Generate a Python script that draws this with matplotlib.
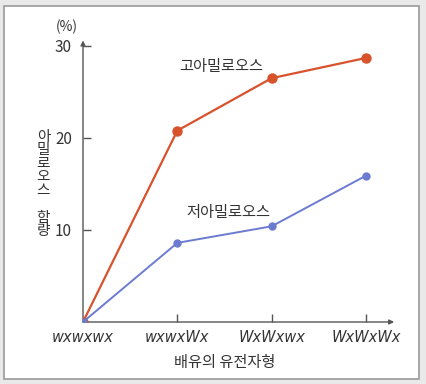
import matplotlib.pyplot as plt
from matplotlib.patches import Rectangle

plt.rcParams['font.family'] = ['Noto Sans CJK KR', 'DejaVu Sans']

genotypes = ['wxwxwx', 'wxwxWx', 'WxWxwx', 'WxWxWx']
high_amylose = [0, 20.8, 26.5, 28.7]   # 고아밀로오스
low_amylose = [0, 8.6, 10.4, 15.9]     # 저아밀로오스
yticks = [10, 20, 30]

red = '#d8522c'
blue = '#6b7bd0'
txt = '#333333'

fig = plt.figure(figsize=(4.26, 3.84), dpi=100)
fig.patch.set_facecolor('#e9e9e9')
# white panel with grey frame, kept behind the axes
fig.add_artist(Rectangle((4 / 426, 5 / 384), 415 / 426, 373 / 384,
                         transform=fig.transFigure, facecolor='white',
                         edgecolor='#9a9a9a', linewidth=1.2, zorder=-10))

ax = fig.add_axes([83 / 426, 62 / 384, 3.3 * 94.3 / 426, 30.6 * 9.2 / 384])
ax.set_xlim(0, 3.3)
ax.set_ylim(0, 30.6)
ax.patch.set_alpha(0)
for s in ax.spines.values():
    s.set_visible(False)

# axes with arrow heads
ax.annotate('', xy=(3.3, 0), xytext=(0, 0),
            arrowprops=dict(arrowstyle='-|>', color='#555555', lw=1.0,
                            mutation_scale=7, shrinkA=0, shrinkB=0))
ax.annotate('', xy=(0, 30.6), xytext=(0, 0),
            arrowprops=dict(arrowstyle='-|>', color='#555555', lw=1.0,
                            mutation_scale=7, shrinkA=0, shrinkB=0))

x = range(len(genotypes))
ax.plot(x, high_amylose, color=red, lw=1.6, marker='o', ms=6.5, zorder=3)
ax.plot(x, low_amylose, color=blue, lw=1.4, marker='o', ms=5, zorder=3)

ax.set_xticks(list(x))
ax.set_xticklabels(genotypes, fontstyle='italic', fontsize=10.5, color=txt,
                   family='DejaVu Sans')
ax.set_yticks(yticks)
ax.set_yticklabels([str(v) for v in yticks], fontsize=11, color=txt)
ax.tick_params(axis='both', direction='in', length=6, width=1, color='#555555')
ax.tick_params(axis='y', pad=8)
ax.tick_params(axis='x', pad=6)
ax.get_xticklines()[0].set_visible(False)

ax.set_xlabel('배유의 유전자형', fontsize=11, color=txt, labelpad=4)
ax.xaxis.set_label_coords(1.5 / 3.3, -0.115)

ax.text(-0.42, 15.0, '\n'.join('아밀로오스 함량'), fontsize=10.5, color=txt,
        ha='center', va='center', linespacing=0.95)
ax.text(-0.17, 32.1, '(%)', fontsize=10, color=txt, ha='center', va='center',
        clip_on=False)
ax.text(1.47, 27.8, '고아밀로오스', fontsize=11, color=txt, ha='center', va='center')
ax.text(1.54, 11.85, '저아밀로오스', fontsize=11, color=txt, ha='center', va='center')

fig.savefig('out.png', dpi=100)
